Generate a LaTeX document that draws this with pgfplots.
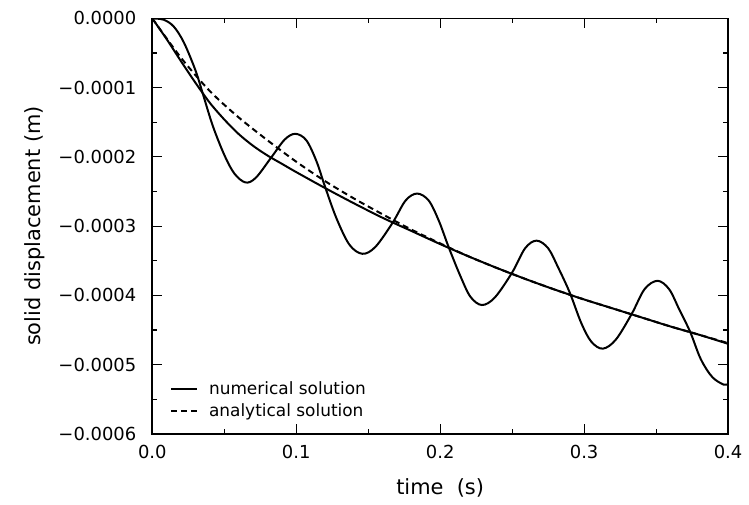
\documentclass[border=0pt]{standalone}
\usepackage{fontspec}
\setmainfont{DejaVu Sans}
\usepackage{pgfplots}
\pgfplotsset{compat=1.18}
\begin{document}
\begin{tikzpicture}
\begin{axis}[
    width=289pt, height=208.5pt, scale only axis,
    xmin=0, xmax=0.4, ymin=-6, ymax=0,
    xtick={0,0.1,0.2,0.3,0.4},
    xticklabels={0.0,0.1,0.2,0.3,0.4},
    ytick={-6,-5,-4,-3,-2,-1,0},
    yticklabels={−0.0006,−0.0005,−0.0004,−0.0003,−0.0002,−0.0001,0.0000},
    minor x tick num=1, minor y tick num=1,
    tick align=inside,
    major tick length=5pt, minor tick length=2.5pt,
    axis line style={line width=0.8pt},
    every tick/.style={black, line width=0.6pt},
    tick label style={font=\fontsize{9}{10}\selectfont},
    yticklabel style={xshift=-4.5pt},
    xticklabel style={yshift=-2pt},
    label style={font=\fontsize{10.5}{12}\selectfont},
    xlabel={time\ \ (s)},
    xlabel style={yshift=-3.5pt},
    ylabel={solid displacement\ (m)},
    legend cell align=left,
    legend style={draw=none, fill=none, at={(0.02,0.015)}, anchor=south west,
        font=\fontsize{8.5}{10}\selectfont, row sep=-1pt},
    legend image code/.code={\draw[#1] (0cm,0cm) -- (0.45cm,0cm); \path (0.58cm,0cm);},
]
% numerical solution (oscillating)
\addplot[black, line width=1pt, smooth, tension=0.55] coordinates {
    (0,0) (0.008,-0.02) (0.015,-0.12) (0.022,-0.35) (0.03,-0.75) (0.035,-1.08)
    (0.042,-1.55) (0.05,-1.97) (0.057,-2.24) (0.0648,-2.37) (0.072,-2.30)
    (0.0826,-2.01) (0.092,-1.75) (0.0994,-1.667) (0.107,-1.76) (0.114,-2.06)
    (0.120,-2.43) (0.128,-2.89) (0.137,-3.27) (0.146,-3.40) (0.155,-3.30)
    (0.167,-2.95) (0.176,-2.63) (0.184,-2.53) (0.192,-2.63) (0.199,-2.92)
    (0.206,-3.31) (0.214,-3.72) (0.221,-4.02) (0.229,-4.14) (0.238,-4.03)
    (0.250,-3.67) (0.259,-3.32) (0.267,-3.21) (0.275,-3.32) (0.282,-3.60)
    (0.290,-3.96) (0.298,-4.40) (0.305,-4.67) (0.313,-4.77) (0.322,-4.64)
    (0.333,-4.27) (0.342,-3.91) (0.351,-3.79) (0.359,-3.91) (0.366,-4.20)
    (0.3737,-4.53) (0.381,-4.92) (0.389,-5.18) (0.397,-5.29) (0.4,-5.28)
};
\addlegendentry{numerical solution}
\addplot[black, dashed, dash pattern=on 3pt off 2pt, line width=1pt, smooth] coordinates {
    (0,0) (0.02,-0.57) (0.04,-1.05) (0.06,-1.43) (0.08,-1.76) (0.10,-2.07)
    (0.12,-2.35) (0.14,-2.60) (0.16,-2.83) (0.18,-3.05) (0.20,-3.25)
    (0.22,-3.44) (0.24,-3.61) (0.26,-3.77) (0.28,-3.92) (0.30,-4.06)
    (0.32,-4.19) (0.34,-4.32) (0.36,-4.45) (0.38,-4.57) (0.40,-4.69)
};
\addlegendentry{analytical solution}
% numerical solution (smooth)
\addplot[black, line width=1pt, smooth, forget plot] coordinates {
    (0,0) (0.01,-0.30) (0.02,-0.62) (0.03,-0.93) (0.04,-1.22) (0.05,-1.46)
    (0.06,-1.67) (0.07,-1.84) (0.08,-1.98) (0.09,-2.10) (0.10,-2.22)
    (0.12,-2.45) (0.14,-2.67) (0.16,-2.88) (0.18,-3.07) (0.20,-3.26)
    (0.22,-3.44) (0.24,-3.61) (0.26,-3.77) (0.28,-3.92) (0.30,-4.06)
    (0.32,-4.19) (0.34,-4.32) (0.36,-4.45) (0.38,-4.57) (0.40,-4.70)
};
\end{axis}
\path (current bounding box.west) ++(-9pt,0);
\path (current bounding box.north) ++(0,2.5pt);
\end{tikzpicture}
\end{document}
